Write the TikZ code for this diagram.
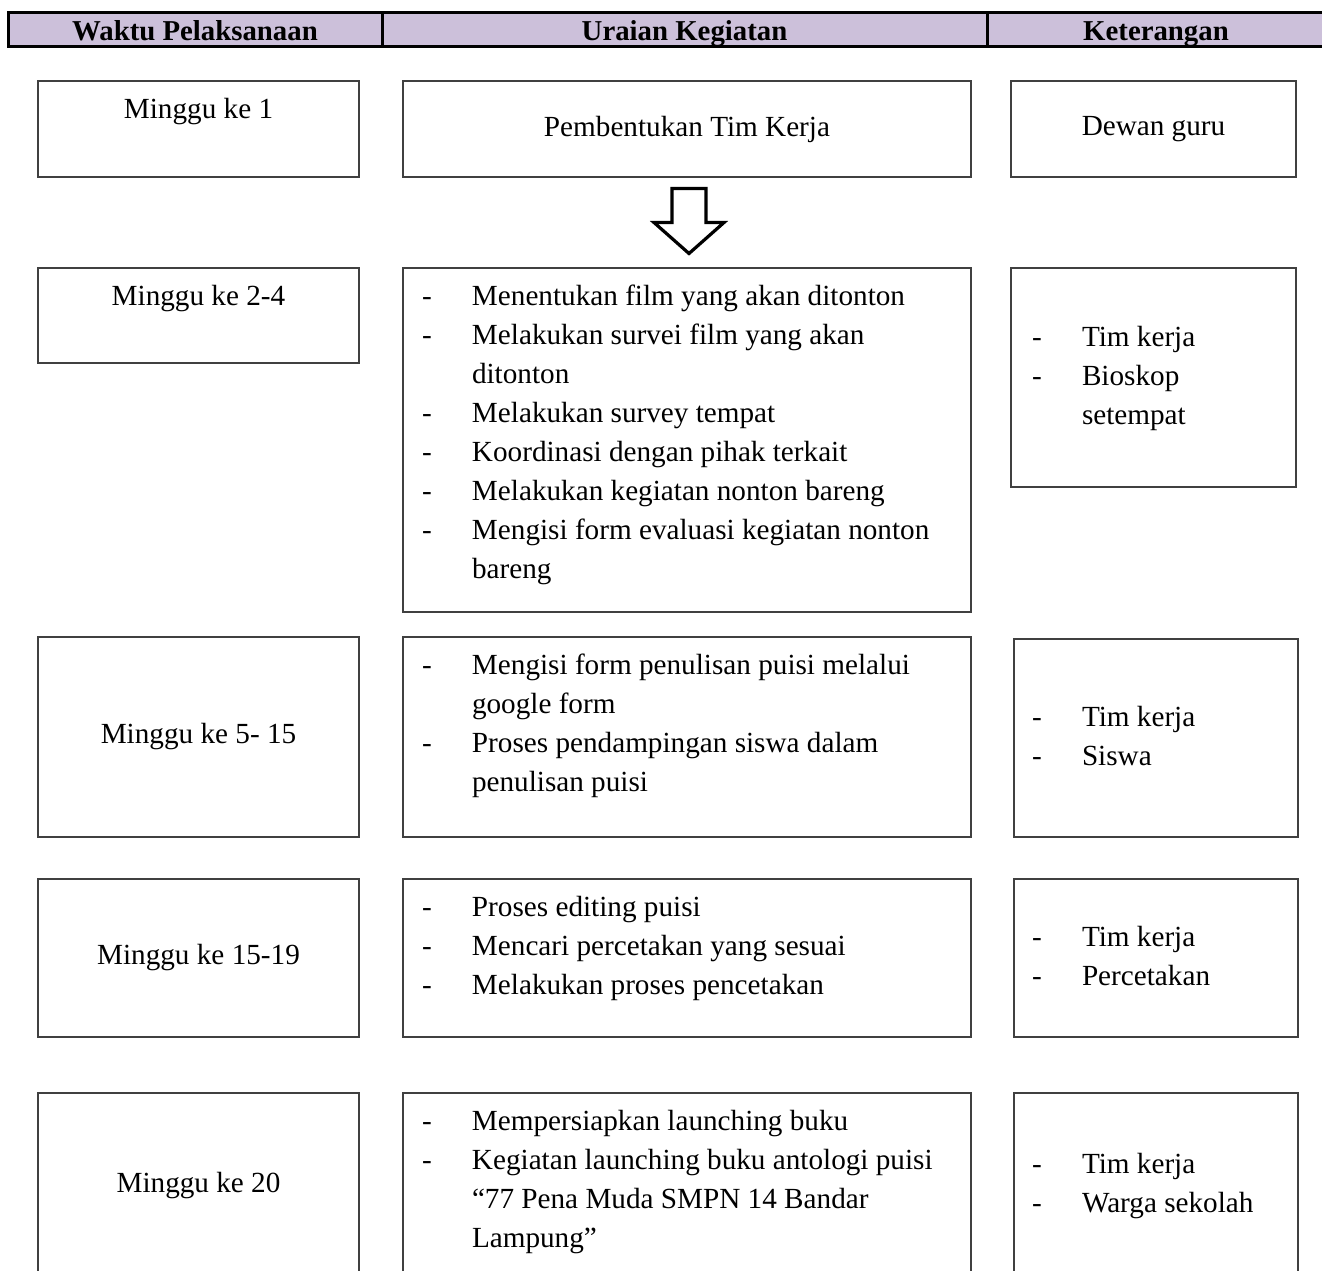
\documentclass[tikz,border=0pt]{standalone}
\usepackage{fontspec}
\setmainfont{Liberation Serif}
\usepackage{tikz}
\usetikzlibrary{positioning,calc}
\definecolor{headfill}{HTML}{CCC0DA}
\definecolor{boxline}{HTML}{404040}
\newcommand{\itm}[1]{\strut\makebox[25pt][l]{-}#1}
\newcommand{\cnt}[1]{\strut\hspace*{25pt}#1}
\tikzset
{
    headcell/.style = {draw=black, line width=1.5pt, fill=headfill, anchor=north west, inner sep=0pt, outer sep=0pt, minimum height=17pt, text height=13pt, text depth=1.3pt, font=\fontsize{14.4}{17}\selectfont\bfseries},
    cellbox/.style  = {draw=boxline, line width=0.8pt, anchor=north west, inner sep=0pt, outer sep=0pt, align=center, font=\fontsize{14.6}{19.5}\selectfont},
    listtext/.style = {align=left, inner sep=0pt, outer sep=0pt, font=\fontsize{14.6}{19.5}\selectfont},
    bigarrow/.style = {draw=black, line width=1.6pt, fill=white, line join=miter}
}

\begin{document}
\begin{tikzpicture}[x=0.5pt, y=-0.5pt]
    \useasboundingbox (0,0) rectangle (1322,1270);
    \clip (0,0) rectangle (1322,1270);

    \node [headcell, minimum width=187pt] (hwaktu) at (8,12) {Waktu Pelaksanaan};
    \node [headcell, minimum width=302.5pt] (huraian) at (382,12) {Uraian Kegiatan};
    \node [headcell, minimum width=169pt] (hket) at (987,12) {Keterangan};

    \node [cellbox, minimum width=160.5pt, minimum height=48pt] (w1) at (38,81) {};
    \node [cellbox, minimum width=284pt, minimum height=48pt] (u1) at (403,81) {Pembentukan Tim Kerja};
    \node [cellbox, minimum width=142.5pt, minimum height=48pt] (k1) at (1011,81) {Dewan guru};

    \node [cellbox, minimum width=160.5pt, minimum height=47.5pt] (w2) at (38,268) {};
    \node [cellbox, minimum width=284pt, minimum height=172pt] (u2) at (403,268) {};
    \node [cellbox, minimum width=142.5pt, minimum height=109.5pt] (k2) at (1011,268) {};

    \node [cellbox, minimum width=160.5pt, minimum height=100pt] (w3) at (38,637) {Minggu ke 5- 15};
    \node [cellbox, minimum width=284pt, minimum height=100pt] (u3) at (403,637) {};
    \node [cellbox, minimum width=142pt, minimum height=99pt] (k3) at (1014,639) {};

    \node [cellbox, minimum width=160.5pt, minimum height=79pt] (w4) at (38,879) {Minggu ke 15-19};
    \node [cellbox, minimum width=284pt, minimum height=79pt] (u4) at (403,879) {};
    \node [cellbox, minimum width=142pt, minimum height=79pt] (k4) at (1014,879) {};

    \node [cellbox, minimum width=160.5pt, minimum height=92pt] (w5) at (38,1093) {Minggu ke 20};
    \node [cellbox, minimum width=284pt, minimum height=92pt] (u5) at (403,1093) {};
    \node [cellbox, minimum width=142pt, minimum height=92pt] (k5) at (1014,1093) {};

    \node [listtext, anchor=north] (w1t) at ([yshift=-5.1pt]w1.north) {\strut Minggu ke 1};
    \node [listtext, anchor=north] (w2t) at ([yshift=-5.1pt]w2.north) {\strut Minggu ke 2-4};

    \node [listtext, anchor=north west] (u2t) at ([xshift=9.5pt, yshift=-5.1pt]u2.north west)
    {
        \itm{Menentukan film yang akan ditonton}\\
        \itm{Melakukan survei film yang akan}\\
        \cnt{ditonton}\\
        \itm{Melakukan survey tempat}\\
        \itm{Koordinasi dengan pihak terkait}\\
        \itm{Melakukan kegiatan nonton bareng}\\
        \itm{Mengisi form evaluasi kegiatan nonton}\\
        \cnt{bareng}
    };
    \node [listtext, anchor=north west] (u3t) at ([xshift=9.5pt, yshift=-5.1pt]u3.north west)
    {
        \itm{Mengisi form penulisan puisi melalui}\\
        \cnt{google form}\\
        \itm{Proses pendampingan siswa dalam}\\
        \cnt{penulisan puisi}
    };
    \node [listtext, anchor=north west] (u4t) at ([xshift=9.5pt, yshift=-5.1pt]u4.north west)
    {
        \itm{Proses editing puisi}\\
        \itm{Mencari percetakan yang sesuai}\\
        \itm{Melakukan proses pencetakan}
    };
    \node [listtext, anchor=north west] (u5t) at ([xshift=9.5pt, yshift=-5.1pt]u5.north west)
    {
        \itm{Mempersiapkan launching buku}\\
        \itm{Kegiatan launching buku antologi puisi}\\
        \cnt{“77 Pena Muda SMPN 14 Bandar}\\
        \cnt{Lampung”}
    };

    \node [listtext, anchor=west] (k2t) at ([xshift=10.5pt]k2.west) {\itm{Tim kerja}\\ \itm{Bioskop}\\ \cnt{setempat}};
    \node [listtext, anchor=west] (k3t) at ([xshift=9pt]k3.west) {\itm{Tim kerja}\\ \itm{Siswa}};
    \node [listtext, anchor=west] (k4t) at ([xshift=9pt]k4.west) {\itm{Tim kerja}\\ \itm{Percetakan}};
    \node [listtext, anchor=west] (k5t) at ([xshift=9pt]k5.west) {\itm{Tim kerja}\\ \itm{Warga sekolah}};

    \coordinate (mid) at ($(u1.south)!0.5!(u2.north)$);
    \draw [bigarrow, shift={(mid)}] (-15,-34) -- (19,-34) -- (19,0) -- (37,0) -- (2,31) -- (-33,0) -- (-15,0) -- cycle;
\end{tikzpicture}
\end{document}
